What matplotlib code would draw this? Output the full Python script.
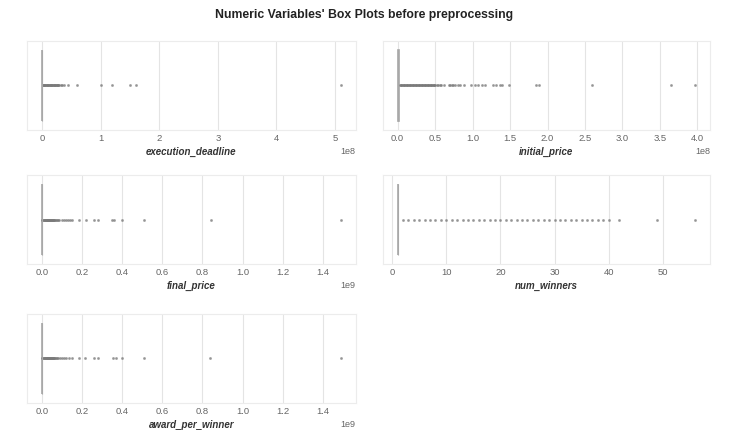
import matplotlib
matplotlib.use("Agg")
import matplotlib.pyplot as plt
import seaborn as sns

sns.set_style("whitegrid")
plt.rcParams['font.family'] = ['Liberation Sans', 'DejaVu Sans']

title = "Numeric Variables' Box Plots before preprocessing"

# variable names
variables = ["execution_deadline", "initial_price", "final_price", "num_winners", "award_per_winner"]

# box statistics: [whislo, q1, median, q3, whishi]
execution_deadline_box = [0, 1.0e5, 2.0e5, 5.0e5, 1.1e6]
execution_deadline_fliers = [1.5e6, 2e6, 3e6, 4e6, 5e6, 6e6, 7e6, 8e6, 9e6, 1.0e7, 1.1e7, 1.2e7,
                             1.3e7, 1.4e7, 1.5e7, 1.6e7, 1.7e7, 1.8e7, 1.9e7, 2.0e7, 2.1e7, 2.2e7,
                             2.3e7, 2.4e7, 2.5e7, 2.6e7, 2.7e7, 2.8e7, 3.0e7, 3.2e7, 3.4e7, 3.8e7,
                             4.4e7, 6.0e7, 1.0e8, 1.2e8, 1.5e8, 1.6e8, 5.1e8]

initial_price_box = [0, 2.0e5, 5.0e5, 1.2e6, 2.5e6]
initial_price_fliers = [3e6, 4e6, 5e6, 6e6, 7e6, 8e6, 9e6, 1.0e7, 1.1e7, 1.2e7, 1.3e7, 1.4e7, 1.5e7,
                        1.6e7, 1.7e7, 1.8e7, 1.9e7, 2.0e7, 2.1e7, 2.2e7, 2.3e7, 2.4e7, 2.5e7, 2.6e7,
                        2.7e7, 2.8e7, 2.9e7, 3.0e7, 3.1e7, 3.2e7, 3.3e7, 3.4e7, 3.5e7, 3.6e7, 3.7e7,
                        3.8e7, 3.9e7, 4.0e7, 4.1e7, 4.2e7, 4.3e7, 4.4e7, 4.5e7, 4.6e7, 4.7e7, 4.8e7,
                        4.9e7, 5.0e7, 5.2e7, 5.4e7, 5.6e7, 5.8e7, 6.2e7, 6.8e7, 7.0e7, 7.2e7, 7.4e7,
                        7.6e7, 8.0e7, 8.3e7, 8.9e7, 9.8e7, 1.03e8, 1.07e8, 1.12e8, 1.16e8, 1.27e8,
                        1.31e8, 1.36e8, 1.39e8, 1.48e8, 1.84e8, 1.88e8, 2.6e8, 3.65e8, 3.97e8]

final_price_box = [0, 1.0e5, 3.0e5, 8.0e5, 1.8e6]
final_price_fliers = [2.5e6, 5e6, 8e6, 1.0e7, 1.3e7, 1.6e7, 2.0e7, 2.2e7, 2.4e7, 2.6e7, 2.8e7,
                      3.0e7, 3.2e7, 3.4e7, 3.6e7, 3.8e7, 4.0e7, 4.3e7, 4.5e7, 4.8e7, 5.0e7, 5.3e7,
                      5.5e7, 5.8e7, 6.0e7, 6.5e7, 7.0e7, 7.5e7, 8.0e7, 8.7e7, 1.0e8, 1.1e8, 1.2e8,
                      1.3e8, 1.4e8, 1.5e8, 1.85e8, 2.18e8, 2.58e8, 2.82e8, 3.5e8, 3.6e8, 3.98e8,
                      5.08e8, 8.42e8, 1.49e9]

num_winners_box = [1, 1, 1, 1, 1]
num_winners_fliers = [2, 3, 4, 5, 6, 7, 8, 9, 10, 11, 12, 13, 14, 15, 16, 17, 18, 19, 20, 21, 22,
                      23, 24, 25, 26, 27, 28, 29, 30, 31, 32, 33, 34, 35, 36, 37, 38, 39, 40, 42,
                      49, 56]

award_per_winner_box = [0, 1.0e5, 3.0e5, 8.0e5, 1.8e6]
award_per_winner_fliers = [2.5e6, 5e6, 8e6, 1.0e7, 1.3e7, 1.6e7, 2.0e7, 2.2e7, 2.4e7, 2.6e7, 2.8e7,
                           3.0e7, 3.2e7, 3.4e7, 3.6e7, 3.8e7, 4.0e7, 4.3e7, 4.5e7, 4.8e7, 5.0e7,
                           5.3e7, 5.5e7, 5.8e7, 6.0e7, 6.5e7, 7.0e7, 7.5e7, 8.0e7, 9.0e7, 1.0e8,
                           1.1e8, 1.2e8, 1.35e8, 1.5e8, 1.83e8, 2.17e8, 2.58e8, 2.8e8, 3.53e8,
                           3.67e8, 4.0e8, 5.07e8, 8.4e8, 1.49e9]

boxes = [execution_deadline_box, initial_price_box, final_price_box, num_winners_box, award_per_winner_box]
fliers = [execution_deadline_fliers, initial_price_fliers, final_price_fliers, num_winners_fliers,
          award_per_winner_fliers]

fig = plt.figure(figsize=(7.29, 4.30), dpi=100)

lefts = [0.037, 0.525]
width_l = 0.451
width_r = 0.449
bottoms = [0.698, 0.386, 0.063]
height = 0.207

positions = [(0, 0), (1, 0), (0, 1), (1, 1), (0, 2)]

box_color = '#a8a8a8'
for name, b, f, (c, r) in zip(variables, boxes, fliers, positions):
    w = width_l if c == 0 else width_r
    ax = fig.add_axes([lefts[c], bottoms[r], w, height])
    stats = [dict(whislo=b[0], q1=b[1], med=b[2], q3=b[3], whishi=b[4], fliers=f, label=name)]
    kw = dict(positions=[0], widths=0.8, patch_artist=True, showfliers=True, showcaps=False,
              boxprops=dict(facecolor='#d0d0d0', edgecolor=box_color, linewidth=1.2),
              medianprops=dict(color=box_color, linewidth=0.8),
              whiskerprops=dict(color=box_color, linewidth=0.8),
              flierprops=dict(marker='o', markersize=1.7, markerfacecolor='#7a7a7a',
                              markeredgecolor='#7a7a7a', markeredgewidth=0.2, alpha=0.8,
                              linestyle='none'))
    try:
        ax.bxp(stats, orientation='horizontal', **kw)
    except TypeError:
        ax.bxp(stats, vert=False, **kw)
    ax.set_ylim(0.5, -0.5)
    ax.set_yticks([])
    ax.autoscale(axis='x')
    ax.margins(x=0.05)
    ax.grid(True, axis='x', color='#e4e4e4', linewidth=0.8)
    ax.grid(False, axis='y')
    for s in ax.spines.values():
        s.set_color('#ececec')
        s.set_linewidth(0.8)
    ax.tick_params(axis='x', labelsize=6.8, labelcolor='#666666', pad=3, length=0)
    ax.xaxis.get_offset_text().set_fontsize(6.5)
    ax.xaxis.get_offset_text().set_color('#666666')
    ax.set_xlabel(name, fontsize=7, fontstyle='italic', fontweight='bold', color='#333333', labelpad=3)

fig.suptitle(title, fontsize=8.8, fontweight='bold', color='#222222', y=0.978)

fig.savefig("out.png", dpi=100)
